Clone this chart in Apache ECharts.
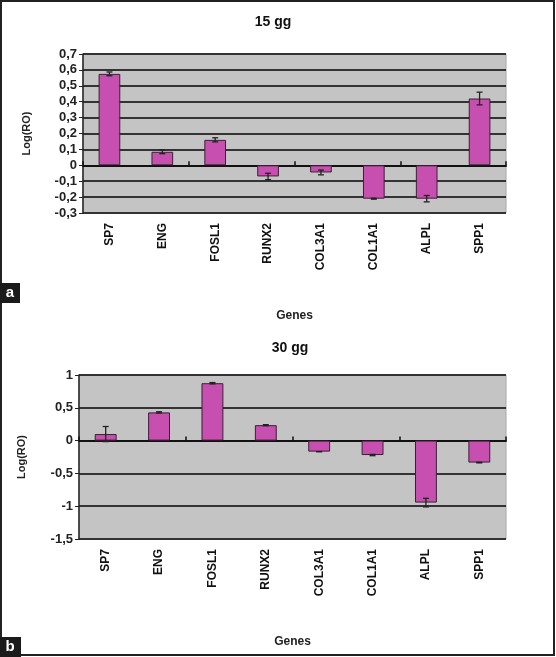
<!DOCTYPE html>
<html>
<head>
<meta charset="utf-8">
<script src="https://cdn.jsdelivr.net/npm/echarts@6/dist/echarts.min.js"></script>
<style>
html,body{margin:0;padding:0;background:#fff;}
#c{width:556px;height:657px;}
</style>
</head>
<body>
<div id="c"></div>
<script>
var genes = ['SP7','ENG','FOSL1','RUNX2','COL3A1','COL1A1','ALPL','SPP1'];
var values15 = [0.575, 0.085, 0.16, -0.07, -0.045, -0.21, -0.21, 0.42];
var err15 = [0.012, 0.012, 0.013, 0.02, 0.015, 0.003, 0.02, 0.04];
var values30 = [0.10, 0.43, 0.875, 0.235, -0.168, -0.22, -0.945, -0.335];
var err30 = [0.115, 0.01, 0.01, 0.008, 0.0, 0.01, 0.065, 0.005];
var titles = ['15 gg', '30 gg'];
var yTicks15 = {min: -0.3, max: 0.7, interval: 0.1};
var yTicks30 = {min: -1.5, max: 1, interval: 0.5};

var FONT = '"Liberation Sans", Arial, sans-serif';
function fmt(v){
  var r = Math.round(v*10)/10;
  if (Math.abs(r) < 1e-9) return '0';
  var s = (Math.abs(r - Math.round(r)) < 1e-9) ? String(Math.round(r)) : r.toFixed(1);
  return s.replace('.', ',');
}
function errData(vals, errs){
  return vals.map(function(v,i){ return [i, v - errs[i], v + errs[i]]; });
}
function errRender(params, api){
  var x = api.value(0);
  var lo = api.coord([x, api.value(1)]);
  var hi = api.coord([x, api.value(2)]);
  var w = 3;
  var st = {stroke:'#222', lineWidth:1.3};
  return {type:'group', children:[
    {type:'line', shape:{x1:lo[0],y1:lo[1],x2:hi[0],y2:hi[1]}, style:st},
    {type:'line', shape:{x1:lo[0]-w,y1:lo[1],x2:lo[0]+w,y2:lo[1]}, style:st},
    {type:'line', shape:{x1:hi[0]-w,y1:hi[1],x2:hi[0]+w,y2:hi[1]}, style:st}
  ]};
}
var grids = [
  {left:83, right:50, top:54, bottom:444, show:true, backgroundColor:'#c4c4c4', borderColor:'#a8a8a8', borderWidth:1},
  {left:79, right:50, top:375, bottom:118, show:true, backgroundColor:'#c4c4c4', borderColor:'#a8a8a8', borderWidth:1}
];
var xAxes = [], yAxes = [], series = [];
[yTicks15, yTicks30].forEach(function(t, g){
  xAxes.push({
    type:'category', data:genes, gridIndex:g, position:'bottom',
    axisLine:{show:false, onZero:false}, axisTick:{show:false},
    axisLabel:{rotate:90, margin:10, fontFamily:FONT, fontWeight:'bold', fontSize:12, color:'#111'},
    name:'Genes', nameLocation:'middle', nameGap:97,
    nameTextStyle:{fontFamily:FONT, fontWeight:'bold', fontSize:12, color:'#222'}
  });
  xAxes.push({
    type:'category', data:genes, gridIndex:g,
    axisLine:{show:true, onZero:true, lineStyle:{color:'#111', width:2}},
    axisTick:{show:true, length:4, inside:false, lineStyle:{color:'#111', width:1.5}},
    axisLabel:{show:false}
  });
  yAxes.push({
    type:'value', gridIndex:g, min:t.min, max:t.max, interval:t.interval,
    axisLine:{show:true, lineStyle:{color:'#222', width:1.5}},
    axisTick:{show:true, length:4, lineStyle:{color:'#222'}},
    splitLine:{show:true, lineStyle:{color:'#333', width:2}},
    axisLabel:{formatter:fmt, fontFamily:FONT, fontWeight:'bold', fontSize:13, color:'#222', margin:6},
    name:'Log(RO)', nameLocation:'middle', nameGap: g===0 ? 51 : 52, nameRotate:90,
    nameTextStyle:{fontFamily:FONT, fontWeight:'bold', fontSize:11, color:'#222'}
  });
});
var vals = [values15, values30], errs = [err15, err30];
for (var g=0; g<2; g++){
  series.push({
    type:'bar', xAxisIndex:2*g, yAxisIndex:g, data:vals[g], barWidth:'41%',
    itemStyle:{color:'#c64fb0', borderColor:'#3a2035', borderWidth:1}, silent:true
  });
  series.push({
    type:'custom', xAxisIndex:2*g, yAxisIndex:g, data:errData(vals[g], errs[g]),
    renderItem:errRender, encode:{x:0, y:[1,2]}, z:5, silent:true
  });
}
var chart = echarts.init(document.getElementById('c'), null, {renderer:'canvas'});
chart.setOption({
  animation:false,
  backgroundColor:'#fff',
  grid:grids, xAxis:xAxes, yAxis:yAxes, series:series,
  graphic:[
    {type:'rect', shape:{x:1, y:1, width:553, height:654}, style:{fill:'none', stroke:'#222', lineWidth:2}, z:100},
    {type:'text', x:273, y:22, style:{text:titles[0], font:'bold 14px '+FONT, fill:'#111', align:'center', verticalAlign:'middle'}},
    {type:'text', x:290, y:348, style:{text:titles[1], font:'bold 14px '+FONT, fill:'#111', align:'center', verticalAlign:'middle'}},
    {type:'rect', shape:{x:0, y:283, width:20, height:20}, style:{fill:'#1a1a1a'}, z:101},
    {type:'text', x:10, y:293, style:{text:'a', font:'bold 15px '+FONT, fill:'#fff', align:'center', verticalAlign:'middle'}, z:102},
    {type:'rect', shape:{x:0, y:637, width:21, height:20}, style:{fill:'#1a1a1a'}, z:101},
    {type:'text', x:10, y:647, style:{text:'b', font:'bold 15px '+FONT, fill:'#fff', align:'center', verticalAlign:'middle'}, z:102}
  ]
});
</script>
</body>
</html>
